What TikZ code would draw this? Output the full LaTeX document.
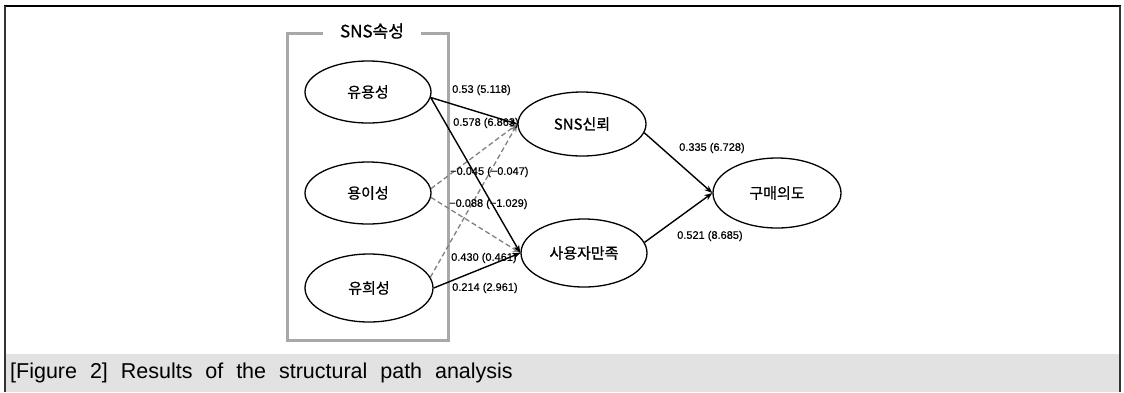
\documentclass[tikz,border=0pt]{standalone}
\usepackage{fontspec}
\setmainfont{Liberation Sans}
\newfontfamily\kr[FakeBold=0.8]{Noto Sans CJK KR}
\newfontfamily\lblfont[FakeBold=0.5]{Liberation Sans}
\usetikzlibrary{arrows.meta,shapes.geometric}
\definecolor{bandgray}{RGB}{226,226,226}
\definecolor{boxgray}{RGB}{168,168,168}
\definecolor{dashgray}{RGB}{128,128,128}
\begin{document}
\begin{tikzpicture}[x=1pt,y=-1pt,
  ell/.style={draw, line width=1.3pt, ellipse, inner sep=0pt, font=\kr\fontsize{15}{15}\selectfont},
  lbl/.style={anchor=west, inner sep=0pt, font=\lblfont\fontsize{11}{11}\selectfont},
  solidarr/.style={line width=1.4pt, -{Stealth[length=8pt,width=6pt]}},
  dasharr/.style={line width=1.3pt, dashgray, dash pattern=on 5pt off 3pt, -{Stealth[length=8pt,width=6pt]}}
]
\useasboundingbox (0,0) rectangle (1124,392);
% caption band and frame
\fill[bandgray] (5,354) rectangle (1120,392);
\draw[line width=2pt, black] (4,6) -- (1121,6);
\draw[line width=2pt, black!80] (5,6) -- (5,392);
\draw[line width=2pt, black!80] (1120,6) -- (1120,392);
\node[anchor=west, inner sep=0pt, font=\fontsize{21.5}{21.5}\selectfont] (cap) at (10,373)
  {[Figure\hspace{0.6em}2]\hspace{0.6em}Results\hspace{0.6em}of\hspace{0.6em}the\hspace{0.6em}structural\hspace{0.6em}path\hspace{0.6em}analysis};
% group box
\draw[boxgray, line width=3pt] (323,33) -- (287,33) -- (287,340) -- (448,340) -- (448,33) -- (421,33);
\node[font=\kr\fontsize{17}{17}\selectfont, inner sep=0pt] (title) at (372,31) {SNS속성};
% nodes
\node[ell, minimum width=126pt, minimum height=62pt] (u) at (368,92) {유용성};
\node[ell, minimum width=126pt, minimum height=62pt] (e) at (368,193) {용이성};
\node[ell, minimum width=128pt, minimum height=68pt] (h) at (369,288) {유희성};
\node[ell, minimum width=128pt, minimum height=64pt] (s) at (582,124) {SNS신뢰};
\node[ell, minimum width=126pt, minimum height=68pt] (m) at (584,253) {사용자만족};
\node[ell, minimum width=128pt, minimum height=70pt] (g) at (777,193) {구매의도};
% dashed paths
\draw[dasharr] (e.4) -- (s.west);
\draw[dasharr] (e.-4) -- (m.west);
\draw[dasharr] (h.10) -- (s.west);
% solid paths
\draw[solidarr] (u.-5) -- (s.west);
\draw[solidarr] (u.-5) -- (m.west);
\draw[solidarr] (h.east) -- (m.west);
\draw[solidarr] (s.-8) -- (g.west);
\draw[solidarr] (m.10) -- (g.west);
% labels
\node[lbl] (l1) at (452,90) {0.53 (5.118)};
\node[lbl] (l2) at (453,123) {0.578 (6.863)};
\node[lbl] (l3) at (450,172) {−0.045 (−0.047)};
\node[lbl] (l4) at (449,204) {−0.088 (−1.029)};
\node[lbl] (l5) at (451,258) {0.430 (0.461)};
\node[lbl] (l6) at (452,288) {0.214 (2.961)};
\node[lbl] (l7) at (679,148) {0.335 (6.728)};
\node[lbl] (l8) at (677,236) {0.521 (8.685)};
\end{tikzpicture}
\end{document}
